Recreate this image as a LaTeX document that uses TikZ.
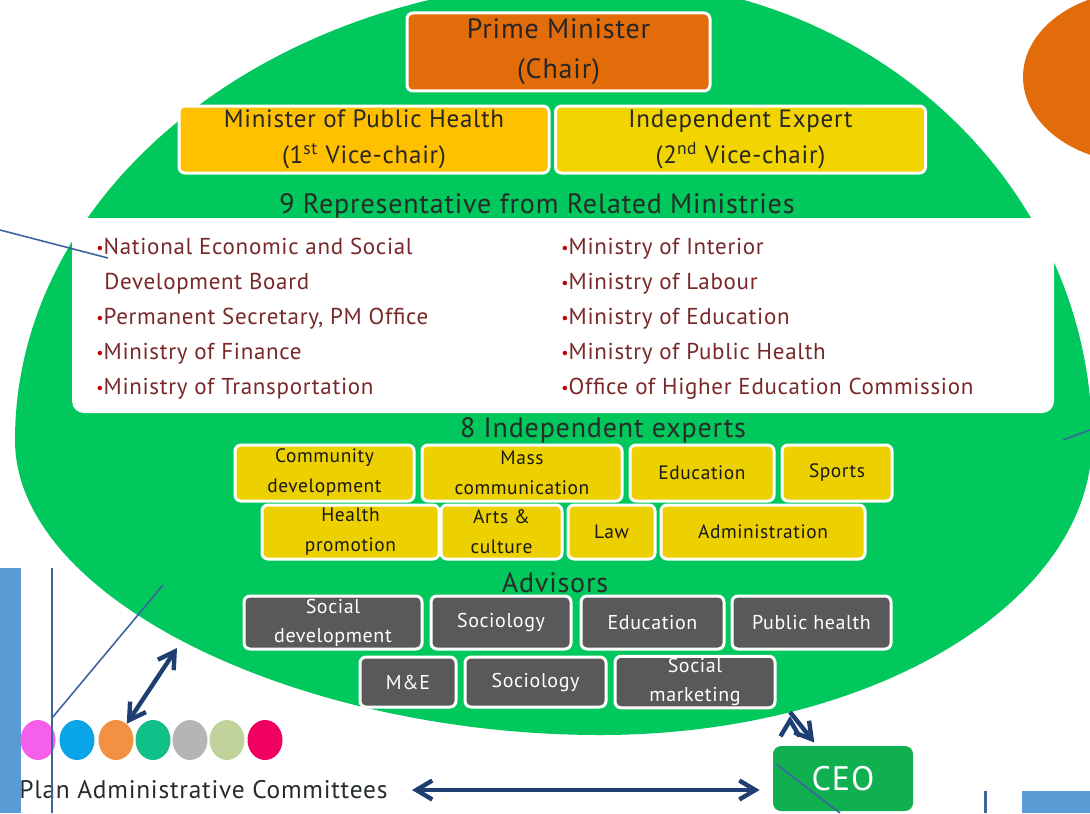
\documentclass[tikz,border=0pt]{standalone}
\usepackage{fontspec}
\setmainfont{PT Sans}[LetterSpace=3]
\usetikzlibrary{arrows.meta,positioning,shapes.geometric}
\definecolor{ovalgreen}{RGB}{0,200,92}
\definecolor{pmorange}{RGB}{227,108,10}
\definecolor{viceamber}{RGB}{255,192,0}
\definecolor{viceyellow}{RGB}{242,213,0}
\definecolor{expyellow}{RGB}{236,208,0}
\definecolor{advgrey}{RGB}{89,89,89}
\definecolor{ceogreen}{RGB}{16,176,80}
\definecolor{arrowblue}{RGB}{31,63,115}
\definecolor{lineblue}{RGB}{62,100,160}
\definecolor{panelblue}{RGB}{91,155,213}
\definecolor{listred}{RGB}{120,40,40}
\definecolor{bulred}{RGB}{192,0,0}
\definecolor{headgrey}{RGB}{38,45,40}
\definecolor{dotpink}{RGB}{245,95,235}
\definecolor{dotblue}{RGB}{10,165,232}
\definecolor{dotorange}{RGB}{243,145,66}
\definecolor{dotteal}{RGB}{16,192,136}
\definecolor{dotgrey}{RGB}{181,181,181}
\definecolor{dotsage}{RGB}{194,210,156}
\definecolor{dotred}{RGB}{240,0,96}
\newcommand{\bul}{\textcolor{bulred}{\raisebox{0.5pt}{\footnotesize\textbullet}}}

\begin{document}
\begin{tikzpicture}
		[x=0.5pt, y=-0.5pt,
		box/.style ={rectangle, draw=white, line width=1.5pt, rounded corners=3pt, inner sep=1pt, align=center},
		chair/.style ={box, fill=pmorange, text=black!85, font=\fontsize{14}{20}\selectfont},
		vice/.style ={box, text=black!85, font=\fontsize{12.5}{18}\selectfont, minimum width=185pt, minimum height=33.5pt},
		expert/.style ={box, fill=expyellow, text=black!90, font=\fontsize{9.7}{15}\selectfont},
		advisor/.style ={box, fill=advgrey, text=white, font=\fontsize{10}{14.5}\selectfont},
		heading/.style ={text=headgrey, font=\fontsize{14}{16}\selectfont},
		listing/.style ={align=left, text=listred, inner sep=0pt, font=\fontsize{11.5}{17.5}\selectfont},
		reps/.style ={rectangle, fill=white, rounded corners=6pt, minimum width=491pt, minimum height=97.5pt},
		pacdot/.style ={ellipse, minimum width=17.5pt, minimum height=20pt, inner sep=0pt},
		ceo/.style ={rectangle, fill=ceogreen, rounded corners=4pt, text=white, minimum width=70pt, minimum height=32.5pt, font=\fontsize{17}{18}\selectfont},
		dblarrow/.style ={draw=arrowblue, line width=2.2pt, {Straight Barb[length=8pt,width=9.5pt]}-{Straight Barb[length=8pt,width=9.5pt]}},
		onearrow/.style ={draw=arrowblue, line width=2.2pt, -{Straight Barb[length=8pt,width=9.5pt]}},
		thinline/.style ={draw=lineblue, line width=0.8pt},
		]
		\useasboundingbox (0,0) rectangle (1090,813);

		% background shapes
		\fill[pmorange] (1140,77) ellipse[x radius=117, y radius=86];
		\fill[ovalgreen] (600,-20) arc[start angle=270, end angle=360, x radius=492, y radius=460]
		arc[start angle=0, end angle=90, x radius=492, y radius=295]
		.. controls (300,735) and (15,600) .. (15,440)
		arc[start angle=180, end angle=270, x radius=585, y radius=460] -- cycle;
		\fill[panelblue] (0,568) rectangle (21,813);
		\fill[panelblue] (1022,791) rectangle (1090,813);

		% committee
		\draw (558.5,52) node[chair, minimum width=151.5pt, minimum height=39pt] (PM) {Prime Minister\\(Chair)};
		\draw (364,139.5) node[vice, fill=viceamber] (VC1) {Minister of Public Health\\(1\textsuperscript{st} Vice-chair)};
		\draw (740.5,139.5) node[vice, fill=viceyellow] (VC2) {Independent Expert\\(2\textsuperscript{nd} Vice-chair)};

		\draw (537,206) node[heading] (T1) {9 Representative from Related Ministries};
		\draw (563,315.5) node[reps] (R) {};
		\draw (96,238) node[listing, anchor=north west] (L1) {\bul National Economic and Social\\
			\hspace*{4pt}Development Board\\ \bul Permanent Secretary, PM Office\\
			\bul Ministry of Finance\\ \bul Ministry of Transportation};
		\draw (561,238) node[listing, anchor=north west] (L2) {\bul Ministry of Interior\\
			\bul Ministry of Labour\\ \bul Ministry of Education\\
			\bul Ministry of Public Health\\ \bul Office of Higher Education Commission};

		\draw (603,430) node[heading] (T2) {8 Independent experts};
		\draw (324.5,473) node[expert, minimum width=89.5pt, minimum height=28pt] (E1) {Community\\development};
		\draw (522,473) node[expert, minimum width=100pt, minimum height=28pt] (E2) {Mass\\communication};
		\draw (702,473) node[expert, minimum width=72pt, minimum height=28pt] (E3) {Education};
		\draw (837,473) node[expert, minimum width=55pt, minimum height=28pt] (E4) {Sports};
		\draw (350.5,532) node[expert, minimum width=88.5pt, minimum height=27pt] (E5) {Health\\promotion};
		\draw (501.5,532) node[expert, minimum width=60.5pt, minimum height=27pt] (E6) {Arts \&\\culture};
		\draw (611.5,532) node[expert, minimum width=43.5pt, minimum height=27pt] (E7) {Law};
		\draw (763,532) node[expert, minimum width=102pt, minimum height=27pt] (E8) {Administration};

		\draw (555,583) node[heading] (T3) {Advisors};
		\draw (333,622.5) node[advisor, minimum width=89pt, minimum height=26.5pt] (A1) {Social\\development};
		\draw (501,622.5) node[advisor, minimum width=70pt, minimum height=26.5pt] (A2) {Sociology};
		\draw (652.5,622.5) node[advisor, minimum width=71.5pt, minimum height=26.5pt] (A3) {Education};
		\draw (811.5,622.5) node[advisor, minimum width=79.5pt, minimum height=26.5pt] (A4) {Public health};
		\draw (408,682) node[advisor, minimum width=48pt, minimum height=25pt] (A5) {M\&E};
		\draw (535.5,682) node[advisor, minimum width=70.5pt, minimum height=25pt] (A6) {Sociology};
		\draw (695,682) node[advisor, minimum width=80pt, minimum height=25pt] (A7) {Social\\marketing};

		% plan administrative committees
		\draw (38,740) node[pacdot, fill=dotpink] (D1) {};
		\draw (77,740) node[pacdot, fill=dotblue] (D2) {};
		\draw (116,740) node[pacdot, fill=dotorange] (D3) {};
		\draw (153,740) node[pacdot, fill=dotteal] (D4) {};
		\draw (190,740) node[pacdot, fill=dotgrey] (D5) {};
		\draw (227,740) node[pacdot, fill=dotsage] (D6) {};
		\draw (265,740) node[pacdot, fill=dotred] (D7) {};
		\draw (19,790) node[anchor=west, inner sep=0pt, text=headgrey, font=\fontsize{12.7}{16}\selectfont] (PAC) {Plan Administrative Committees};
		\draw (843,778.5) node[ceo] (CEO) {CEO};

		\coordinate (ovalSW) at (177,648);
		\coordinate (ovalS) at (790,712);
		\path[dblarrow] (D3) edge (ovalSW);
		\path[onearrow, shorten >=2pt] (ovalS) edge (CEO);
		\draw[dblarrow, shorten <=12pt, shorten >=6.5pt] (PAC.east) -- (PAC.east -| CEO.west);

		% stray lines
		\coordinate (lnA) at (0,230);
		\coordinate (lnB) at (108,258);
		\coordinate (lnC) at (52,718);
		\coordinate (lnD) at (163,585);
		\coordinate (lnE) at (52,568);
		\coordinate (lnF) at (52,813);
		\coordinate (lnG) at (776,764);
		\coordinate (lnH) at (840,813);
		\coordinate (lnI) at (1063,440);
		\coordinate (lnJ) at (1090,430);
		\coordinate (lnK) at (985,791);
		\coordinate (lnL) at (985,813);
		\draw[thinline] (lnA) -- (lnB);
		\draw[thinline] (lnC) -- (lnD);
		\draw[thinline] (lnE) -- (lnF);
		\draw[thinline] (lnG) -- (lnH);
		\draw[thinline] (lnI) -- (lnJ);
		\draw[thinline, line width=1.5pt] (lnK) -- (lnL);
	\end{tikzpicture}
\end{document}
